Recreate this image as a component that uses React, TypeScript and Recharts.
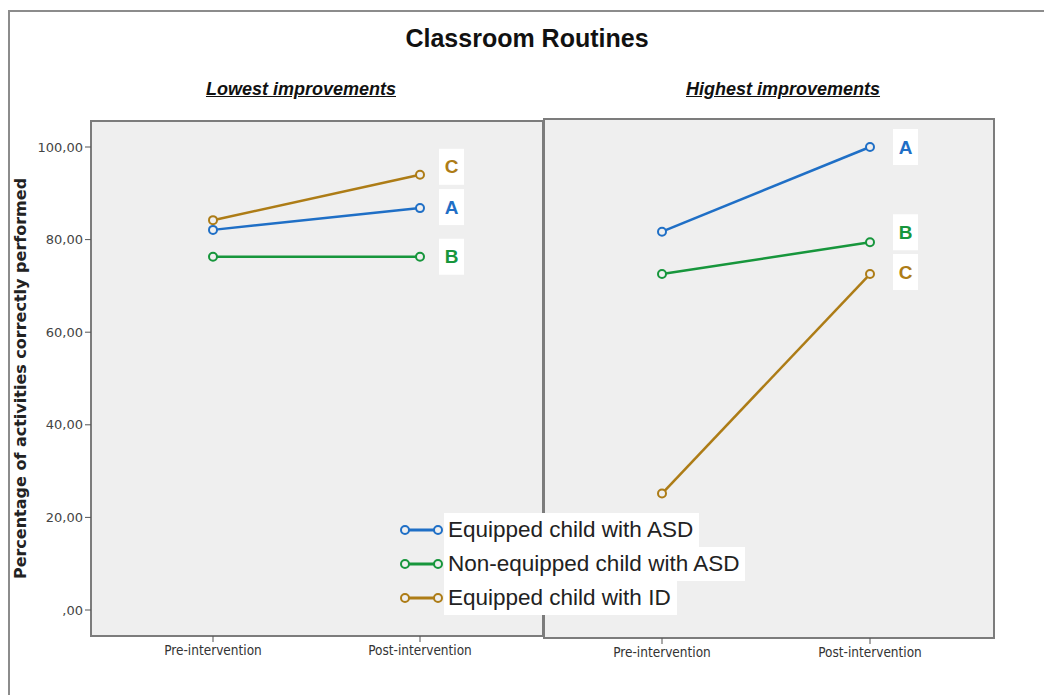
import { LineChart, Line, XAxis, YAxis, Legend, LabelList } from 'recharts';

const categories = ['Pre-intervention', 'Post-intervention'];
const seriesNames = ['Equipped child with ASD', 'Non-equipped child with ASD', 'Equipped child with ID'];
const seriesLetters = ['A', 'B', 'C'];
const yTicks = [0, 20, 40, 60, 80, 100];

// Lowest improvements
const lowEquippedASD = [82.1, 86.8];
const lowNonEquippedASD = [76.3, 76.3];
const lowEquippedID = [84.2, 94.0];

// Highest improvements
const highEquippedASD = [82.2, 100.6];
const highNonEquippedASD = [73.0, 79.9];
const highEquippedID = [25.3, 73.0];

const colors = ['#1f6fc6', '#17963c', '#ad7c16'];
const sans = '"Liberation Sans", Arial, sans-serif';

const buildRows = (series: number[][]) =>
  categories.map((name, i) => {
    const row: Record<string, any> = { name };
    series.forEach((vals, k) => {
      row[`s${k}`] = vals[i];
      row[`l${k}`] = i === categories.length - 1 ? seriesLetters[k] : null;
    });
    return row;
  });

const lowRows = buildRows([lowEquippedASD, lowNonEquippedASD, lowEquippedID]);
const highRows = buildRows([highEquippedASD, highNonEquippedASD, highEquippedID]);

// letter boxes next to the last point
const letterLabel = (color: string, dx: number, dy: number) => (props: any) => {
  const { value } = props;
  if (!value) return null;
  const vb = props.viewBox || {};
  const x = (vb.x ?? props.x) + dx;
  const y = (vb.y ?? props.y) + dy;
  return (
    <g>
      <rect x={x - 12.5} y={y - 18} width={25} height={36} fill="#fff" />
      <text x={x} y={y} dy="0.35em" textAnchor="middle" fill={color} fontSize={19} fontWeight="bold" fontFamily={sans}>
        {value}
      </text>
    </g>
  );
};

const lowShift = [-1, 0, -8];
const highShift = [0, -10, -2];

const LegendBox = () => (
  <div>
    {seriesNames.map((n, k) => (
      <div key={n} style={{ display: 'flex', alignItems: 'center', height: 34 }}>
        <svg width={46} height={14} style={{ display: 'block' }}>
          <line x1={7} y1={7} x2={40} y2={7} stroke={colors[k]} strokeWidth={3} />
          <circle cx={7} cy={7} r={4} fill="#efefef" stroke={colors[k]} strokeWidth={2} />
          <circle cx={40} cy={7} r={4} fill="#efefef" stroke={colors[k]} strokeWidth={2} />
        </svg>
        <span style={{ background: '#fff', padding: '0 6px 0 4px', height: 34, lineHeight: '34px', fontFamily: sans, fontSize: 22.5, color: '#222', whiteSpace: 'nowrap' }}>
          {n}
        </span>
      </div>
    ))}
  </div>
);

const tickFmt = (v: number) => (v === 0 ? ',00' : `${v},00`);

const xTick = { fontFamily: '"DejaVu Sans Condensed", "DejaVu Sans", sans-serif', fontSize: 13.5, fill: '#333' };

const renderLines = (shift: number[], dx: number) =>
  seriesNames.map((n, k) => (
    <Line
      key={n}
      name={n}
      dataKey={`s${k}`}
      stroke={colors[k]}
      strokeWidth={2.5}
      dot={{ r: 4, strokeWidth: 2, fill: '#efefef' }}
      activeDot={false}
      isAnimationActive={false}
    >
      <LabelList dataKey={`l${k}`} content={letterLabel(colors[k], dx, shift[k])} />
    </Line>
  ));

export default function App() {
  return (
    <div style={{ position: 'absolute', left: 0, top: 0, width: 1044, height: 695, background: '#fff', overflow: 'hidden' }}>
      <div style={{ position: 'absolute', left: 8, top: 10, width: 1100, height: 800, borderLeft: '2px solid #8c8c8c', borderTop: '2px solid #8c8c8c' }} />
      <div style={{ position: 'absolute', left: 90, top: 120, width: 454, height: 517, boxSizing: 'border-box', border: '2px solid #7c7c7c', background: '#efefef' }} />
      <div style={{ position: 'absolute', left: 543, top: 118, width: 452, height: 521, boxSizing: 'border-box', border: '2px solid #7c7c7c', background: '#efefef' }} />

      <div style={{ position: 'absolute', left: 327, top: 24, width: 400, textAlign: 'center', fontFamily: sans, fontWeight: 'bold', fontSize: 25, color: '#111' }}>
        Classroom Routines
      </div>
      <div style={{ position: 'absolute', left: 101, top: 79, width: 400, textAlign: 'center', fontFamily: sans, fontWeight: 'bold', fontStyle: 'italic', textDecoration: 'underline', fontSize: 18, color: '#111' }}>
        Lowest improvements
      </div>
      <div style={{ position: 'absolute', left: 583, top: 79, width: 400, textAlign: 'center', fontFamily: sans, fontWeight: 'bold', fontStyle: 'italic', textDecoration: 'underline', fontSize: 18, color: '#111' }}>
        Highest improvements
      </div>

      <div style={{ position: 'absolute', left: 494, top: 0 }}>
        <LineChart width={550} height={695} data={highRows} margin={{ top: 119, right: 50, bottom: 27, left: 50 }}>
          <XAxis dataKey="name" padding={{ left: 118, right: 124 }} height={30} axisLine={false} tickSize={6} tickMargin={3} tickLine={{ stroke: '#555' }} tick={xTick} />
          <YAxis hide domain={[0, 100]} padding={{ top: 28, bottom: 28 }} />
          {renderLines(highShift, 35.5)}
        </LineChart>
      </div>

      <div style={{ position: 'absolute', left: 0, top: 0 }}>
        <LineChart width={560} height={695} data={lowRows} margin={{ top: 121, right: 17, bottom: 29, left: 11 }}>
          <XAxis dataKey="name" padding={{ left: 122, right: 123 }} height={30} axisLine={false} tickSize={6} tickMargin={3} tickLine={{ stroke: '#555' }} tick={xTick} />
          <YAxis
            width={80}
            domain={[0, 100]}
            ticks={yTicks}
            padding={{ top: 26, bottom: 26 }}
            tickFormatter={tickFmt}
            axisLine={false}
            tickSize={6}
            tickLine={{ stroke: '#555' }}
            tick={{ fontFamily: '"DejaVu Sans", sans-serif', fontSize: 13, fill: '#444' }}
            label={{
              value: 'Percentage of activities correctly performed',
              angle: -90,
              position: 'insideLeft',
              offset: 9,
              style: { textAnchor: 'middle', fontFamily: '"DejaVu Sans", sans-serif', fontWeight: 'bold', fontSize: 16, fill: '#222' },
            }}
          />
          {renderLines(lowShift, 31.5)}
          <Legend
            layout="horizontal"
            verticalAlign="middle"
            align="center"
            content={<LegendBox />}
            wrapperStyle={{ left: 398, top: 513, width: 400 }}
          />
        </LineChart>
      </div>
    </div>
  );
}
